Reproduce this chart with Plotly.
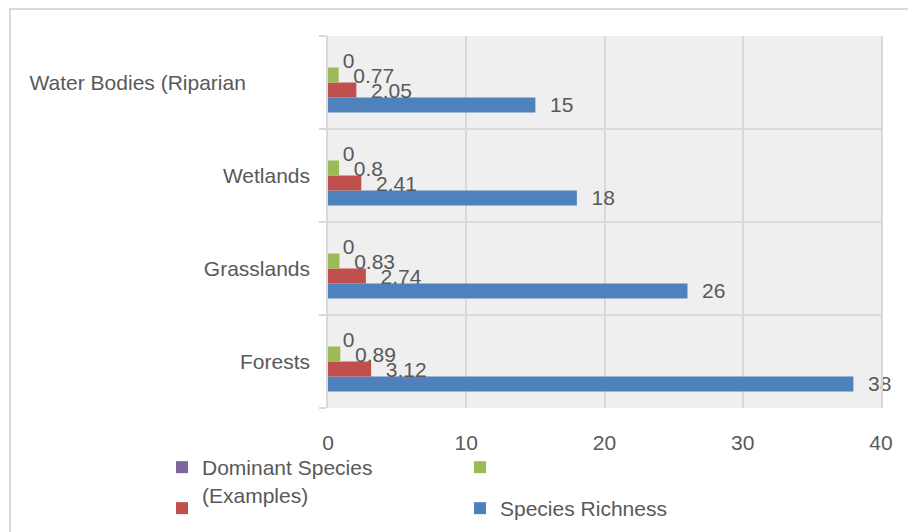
import plotly.graph_objects as go

categories = ["Forests", "Grasslands", "Wetlands", "Water Bodies (Riparian"]
species_richness = [38, 26, 18, 15]
series_red = [3.12, 2.74, 2.41, 2.05]
series_green = [0.89, 0.83, 0.8, 0.77]
dominant_species = [0, 0, 0, 0]
tick_values = [0, 10, 20, 30, 40]

FONT = "Liberation Sans"
TXT = "#595959"
FS = 21

W, H = 908, 532
L, R, T, B = 328, 27, 36, 124
PW, PH = W - L - R, H - T - B

def px_x(px):
    return (px - L) / PW

def px_y(py):
    return (H - B - py) / PH

pad = "\u00a0\u00a0"

series = [
    ("Species Richness", species_richness, "#4F81BD", "legend4"),
    ("\u00a0", series_red, "#C0504D", "legend3"),
    ("\u00a0", series_green, "#9BBB59", "legend2"),
    ("Dominant Species<br>(Examples)", dominant_species, "#8064A2", "legend"),
]

fig = go.Figure()
for name, vals, col, lg in series:
    fig.add_trace(go.Bar(
        y=categories, x=vals, orientation="h", name=name,
        marker=dict(color=col, line=dict(width=0)),
        text=[pad + f"{v:g}" for v in vals],
        textposition="outside", constraintext="none", cliponaxis=False,
        textfont=dict(family=FONT, size=FS, color=TXT),
        legend=lg,
    ))

ticktext = [c if not c.startswith("Water") else c + "\u00a0" * 11 for c in categories]

def leg(xpx, ypx):
    return dict(xref="container", yref="container",
                x=(xpx - 20) / W, y=(H - ypx) / H, xanchor="left", yanchor="top",
                bgcolor="rgba(0,0,0,0)", borderwidth=0, valign="top",
                font=dict(family=FONT, size=FS, color=TXT))

fig.update_layout(
    width=W, height=H,
    margin=dict(l=L, r=R, t=T, b=B, pad=0, autoexpand=False),
    paper_bgcolor="white", plot_bgcolor="#efefef",
    barmode="group", bargap=0.355, bargroupgap=0,
    font=dict(family=FONT, size=FS, color=TXT),
    showlegend=True,
    legend=leg(182, 447),
    legend2=leg(480, 447),
    legend3=leg(182, 488),
    legend4=leg(480, 488),
    xaxis=dict(range=[0, 40], tickvals=tick_values, showgrid=True,
               gridcolor="#d9d9d9", gridwidth=1.5, zeroline=False,
               showline=False, ticks="", ticklabelstandoff=20,
               tickfont=dict(family=FONT, size=FS, color=TXT)),
    yaxis=dict(type="category", categoryorder="array", categoryarray=categories,
               tickvals=categories, ticktext=ticktext,
               tickson="boundaries", ticks="outside", ticklen=7, tickcolor="#d9d9d9",
               tickwidth=1.5, showgrid=True, gridcolor="#d9d9d9", gridwidth=1.5,
               showline=True, linecolor="#d9d9d9", linewidth=1.5, mirror=True,
               ticklabelstandoff=12,
               tickfont=dict(family=FONT, size=FS, color=TXT)),
    shapes=[dict(type="rect", xref="paper", yref="paper",
                 x0=px_x(10), x1=px_x(915), y0=px_y(545), y1=px_y(9),
                 line=dict(color="#d9d9d9", width=2), fillcolor="rgba(0,0,0,0)",
                 layer="below")],
)

fig.write_html("out.html")
